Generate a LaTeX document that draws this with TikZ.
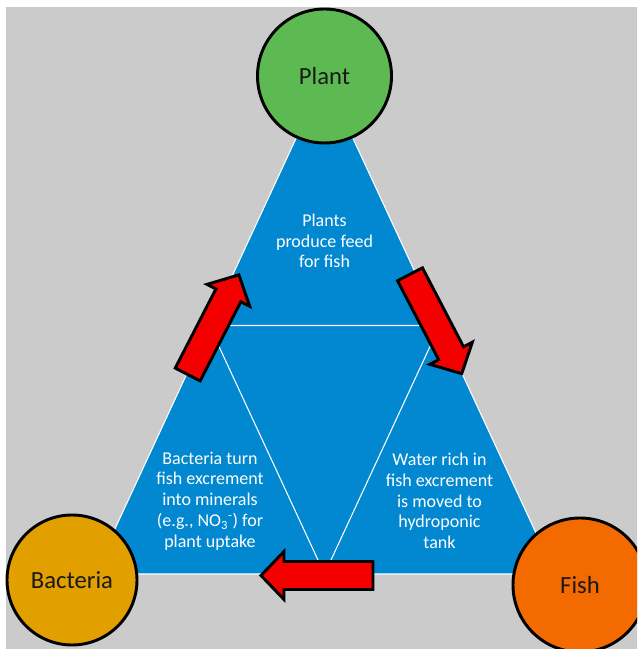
\documentclass[tikz,border=0pt]{standalone}
\usepackage{fontspec}
\usetikzlibrary{calc}
\setmainfont{Carlito}
\definecolor{bggray}{HTML}{CBCBCB}
\definecolor{triblue}{HTML}{0288D1}
\definecolor{plantgreen}{HTML}{5DB952}
\definecolor{bactgold}{HTML}{E1A000}
\definecolor{fishorange}{HTML}{F26A00}
\definecolor{arrowred}{HTML}{F50000}
\tikzset{
  circ/.style={circle, draw=black, line width=2.2pt, inner sep=0pt, text=black!90,
    font=\fontsize{18.5}{22}\selectfont},
  whiteline/.style={draw=white, line width=0.8pt},
  desc/.style={text=white, align=center, inner sep=0pt,
    font=\fontsize{13.5}{15.6}\selectfont},
  redarrow/.style={fill=arrowred, draw=black, line width=2.2pt, line join=miter},
  blockarrow/.pic={
    \draw[redarrow] (0,-14) -- (89,-14) -- (89,-24) -- (112,0) -- (89,24) -- (89,14) -- (0,14) -- cycle;
  }
}
\begin{document}
\begin{tikzpicture}[x=0.75pt, y=0.75pt]
\useasboundingbox (0,0) rectangle (637,649);
\clip (0,0) rectangle (637,649);
\fill[white] (0,0) rectangle (637,649);
\fill[bggray] (6,-5) rectangle (642,642);
% triangle
\coordinate (apex) at (324.5,572);
\coordinate (bl) at (94,75);
\coordinate (br) at (555,75);
\coordinate (ml) at ($(apex)!0.5!(bl)$);
\coordinate (mr) at ($(apex)!0.5!(br)$);
\coordinate (mb) at ($(bl)!0.5!(br)$);
\fill[triblue] (apex) -- (bl) -- (br) -- cycle;
\draw[whiteline] (apex) -- (bl) -- (br) -- cycle;
\draw[whiteline] (ml) -- (mr) -- (mb) -- cycle;
% texts
\node[desc] (t1) at (324.5,408) {Plants\\produce feed\\for fish};
\node[desc] (t2) at (210,148) {Bacteria turn\\fish excrement\\into minerals\\(e.g., NO\textsubscript{3}\textsuperscript{-}) for\\plant uptake};
\node[desc] (t3) at (439.5,148) {Water rich in\\fish excrement\\is moved to\\hydroponic\\tank};
% arrows
\pic[rotate=62.8] (a1) at (187.7,274.5) {blockarrow};
\pic[rotate=-62.5] (a2) at (410,374.7) {blockarrow};
\pic[rotate=180] (a3) at (373,73.5) {blockarrow};
% circles
\node[circ, fill=plantgreen, minimum size=100.5pt] (plant) at (324.5,573) {Plant};
\node[circ, fill=bactgold, minimum size=97.5pt] (bacteria) at (72,69) {Bacteria};
\node[circ, fill=fishorange, minimum size=100.5pt] (fish) at (580,64) {Fish};
\end{tikzpicture}
\end{document}
